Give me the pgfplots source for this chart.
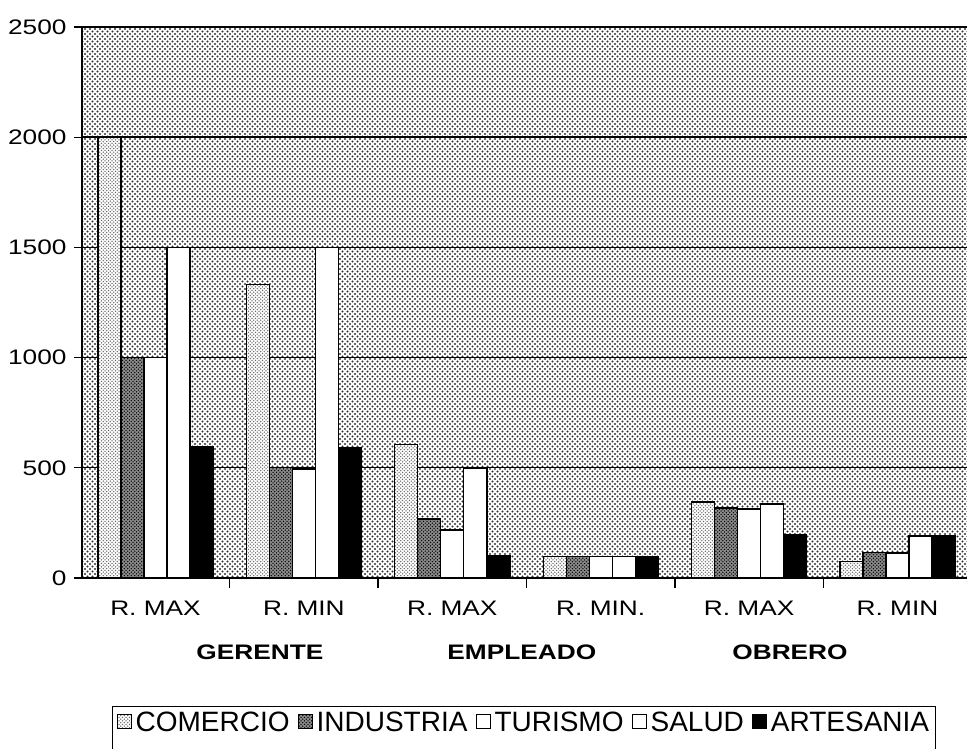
\documentclass[border=0pt]{standalone}
\usepackage{pgfplots}
\pgfplotsset{compat=1.18}
\usetikzlibrary{patterns}
\usepackage{fontspec}
\setmainfont{Liberation Sans}
\newfontfamily\widefont{Liberation Sans}[FakeStretch=1.25]

\pgfdeclarepatternformonly{bgdots}{\pgfqpoint{-1.5pt}{-1.5pt}}{\pgfqpoint{4pt}{4pt}}{\pgfqpoint{5pt}{5pt}}{%
  \pgfpathcircle{\pgfqpoint{0pt}{0pt}}{1.2pt}%
  \pgfpathcircle{\pgfqpoint{2.5pt}{2.5pt}}{1.2pt}%
  \pgfusepath{fill}}
\pgfdeclarepatternformonly{finedots}{\pgfqpoint{-1pt}{-1pt}}{\pgfqpoint{3pt}{3pt}}{\pgfqpoint{3.5pt}{3.5pt}}{%
  \pgfpathcircle{\pgfqpoint{0pt}{0pt}}{0.75pt}%
  \pgfpathcircle{\pgfqpoint{1.75pt}{1.75pt}}{0.75pt}%
  \pgfusepath{fill}}

\begin{document}
\begin{tikzpicture}
\begin{axis}[
  scale only axis,
  width=885pt, height=551pt,
  at={(0pt,0pt)}, anchor=south west,
  xmin=-0.495, xmax=5.468,
  ymin=0, ymax=2500,
  ybar=0pt, bar width=0.155,
  clip=false,
  axis x line*=bottom, axis y line*=left,
  axis line style={-, line width=1.4pt, black},
  axis background/.style={fill=white, postaction={pattern=bgdots, pattern color=black!80}},
  ytick={0,500,1000,1500,2000,2500},
  ymajorgrids,
  grid style={black, line width=1.4pt},
  xtick={0,1,2,3,4,5},
  xticklabels={R. MAX, R. MIN, R. MAX, R. MIN., R. MAX, R. MIN},
  minor xtick={0.5,1.5,2.5,3.5,4.5},
  major x tick style={draw=none},
  minor x tick style={black, line width=1.2pt},
  ytick style={black, line width=1.2pt},
  tick align=outside,
  major tick length=8pt, minor tick length=10pt,
  tick label style={font=\fontsize{21}{25}\selectfont\widefont},
  /pgf/number format/assume math mode=true,
  /pgf/number format/set thousands separator={},
  xticklabel style={yshift=-12pt},
  yticklabel style={xshift=-4pt},
  legend columns=5,
  area legend,
  legend image code/.code={\draw[#1, line width=1pt] (0pt,0pt) rectangle (14pt,14pt);},
  legend style={at={(0.0339,-0.2323)}, anchor=north west,
    draw=black, line width=1.2pt,
    font=\fontsize{28}{32}\selectfont,
    inner xsep=4pt, inner ysep=3pt,
    nodes={text depth=14pt},
    /tikz/every odd column/.append style={column sep=2pt},
    /tikz/every even column/.append style={column sep=6pt}},
  every axis plot/.append style={draw=black, line width=1.4pt},
]
\addplot[fill=white, postaction={pattern=finedots, pattern color=black!60}]
  coordinates {(0,2000) (1,1333) (2,605) (3,98) (4,344) (5,75)};
\addplot[fill=black!45, postaction={pattern=finedots, pattern color=black}]
  coordinates {(0,1000) (1,500) (2,268) (3,98) (4,318) (5,117)};
\addplot[fill=white]
  coordinates {(0,1000) (1,495) (2,218) (3,98) (4,313) (5,113)};
\addplot[fill=white]
  coordinates {(0,1500) (1,1500) (2,497) (3,98) (4,336) (5,190)};
\addplot[fill=black]
  coordinates {(0,595) (1,592) (2,102) (3,98) (4,197) (5,193)};
\legend{COMERCIO, INDUSTRIA, TURISMO, SALUD, ARTESANIA}
\node[font=\fontsize{21}{25}\selectfont\bfseries\widefont] at (rel axis cs:0.201,0) [yshift=-74pt] {GERENTE};
\node[font=\fontsize{21}{25}\selectfont\bfseries\widefont] at (rel axis cs:0.497,0) [yshift=-74pt] {EMPLEADO};
\node[font=\fontsize{21}{25}\selectfont\bfseries\widefont] at (rel axis cs:0.800,0) [yshift=-74pt] {OBRERO};
\end{axis}
\pgfresetboundingbox
\path[use as bounding box] (-82pt,-171pt) rectangle (885pt,578pt);
\end{tikzpicture}
\end{document}
